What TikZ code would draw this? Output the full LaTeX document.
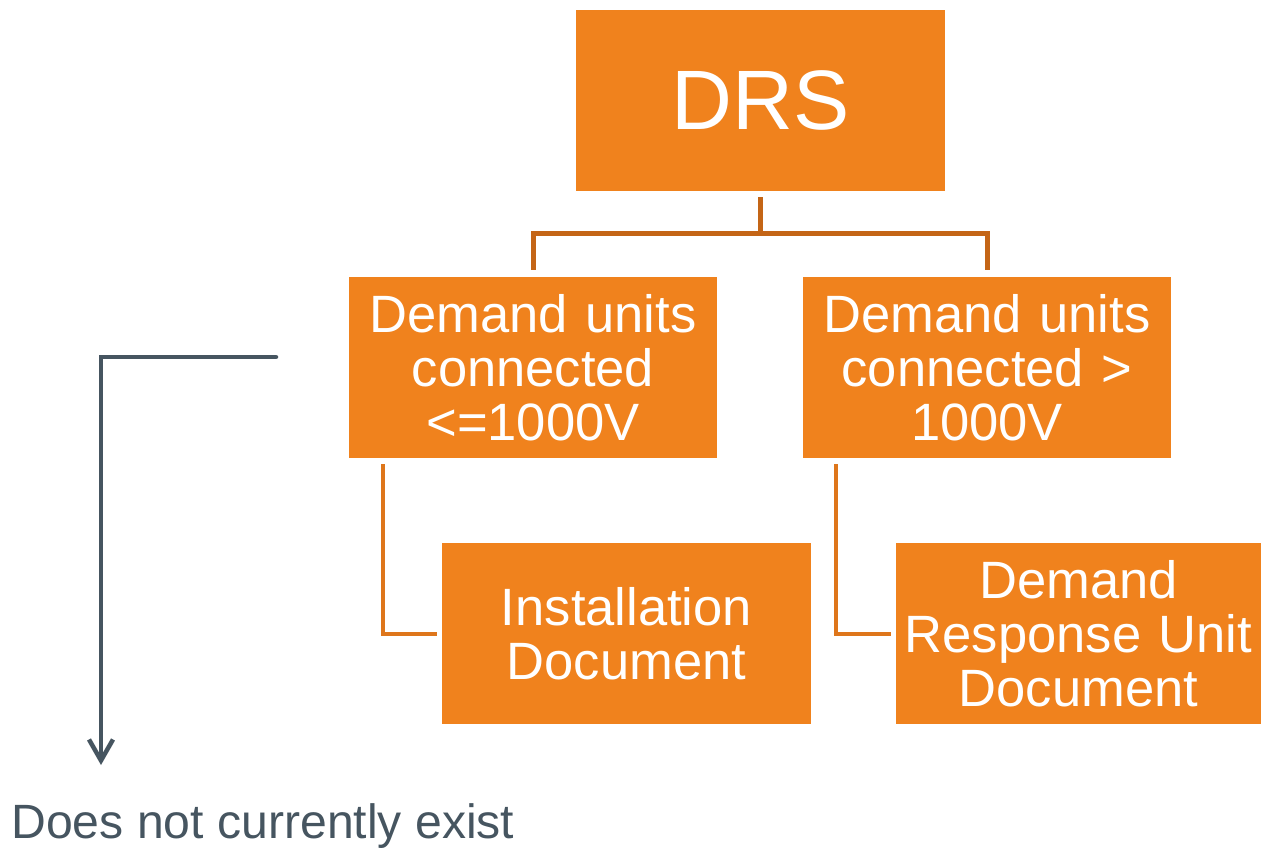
\documentclass[tikz,border=0pt]{standalone}
\usepackage{fontspec}
\setmainfont{Liberation Sans}
\usetikzlibrary{arrows.meta}
\definecolor{boxorange}{HTML}{F0821D}
\definecolor{topbrown}{HTML}{C46516}
\definecolor{sideorange}{HTML}{DE761B}
\definecolor{slate}{HTML}{465560}

\begin{document}
\begin{tikzpicture}[x=0.02cm,y=-0.02cm,
  orangebox/.style={fill=boxorange,text=white,align=center,inner sep=0pt,
    minimum width=7.38cm,minimum height=3.62cm,text width=7.2cm,
    font=\fontsize{29.9}{30.6}\selectfont},
  topline/.style={draw=topbrown,line width=0.1cm},
  sideline/.style={draw=sideorange,line width=0.08cm},
  greyline/.style={draw=slate,line width=0.09cm,line cap=round,
    -{Straight Barb[length=0.42cm,width=0.48cm]}},
  note/.style={text=slate,inner sep=0pt,font=\fontsize{27.4}{32}\selectfont}]

   \useasboundingbox (0,0) rectangle (1261,850);

   % boxes
   \node[orangebox,font=\fontsize{48}{50}\selectfont] (drs) at (760.5,100.5) {DRS};
   \node[orangebox] (low) at (533,367.5) {Demand units\\connected\\<=1000V};
   \node[orangebox] (high) at (987,367.5) {Demand units\\connected >\\1000V};
   \node[orangebox] (inst) at (626.5,633.5) {Installation\\Document};
   \node[orangebox,minimum width=7.3cm] (dru) at (1078.5,633.5) {Demand\\Response Unit\\Document};

   % tree lines
   \coordinate (fork) at (760.5,233);
   \draw[topline,shorten <=0.12cm] (drs.south) -- (fork);
   \draw[topline,shorten >=0.14cm] (fork) -| (low.north);
   \draw[topline,shorten >=0.14cm] (fork) -| (high.north);
   \draw[sideline,shorten <=0.12cm,shorten >=0.1cm] ([xshift=0.7cm]low.south west) |- (inst.west);
   \draw[sideline,shorten <=0.12cm,shorten >=0.1cm] ([xshift=0.68cm]high.south west) |- (dru.west);

   % missing link
   \coordinate (gstart) at (276,357);
   \coordinate (gend) at (101,765);
   \draw[greyline] (gstart) -| (gend);
   \node[note,anchor=base west] (missing) at (11,838) {Does not currently exist};

\end{tikzpicture}
\end{document}
